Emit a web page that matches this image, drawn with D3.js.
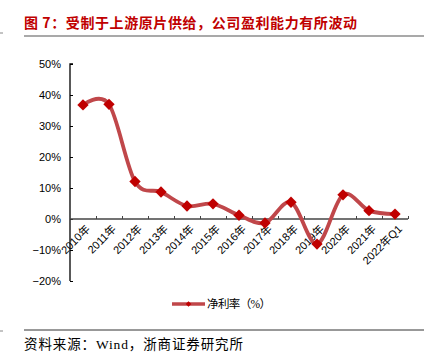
<!DOCTYPE html>
<html><head><meta charset="utf-8">
<script src="https://cdn.jsdelivr.net/npm/d3@7"></script>
<style>body{margin:0;background:#fff}svg{display:block}</style>
</head><body>
<svg id="c" width="438" height="364"></svg>
<script>
const categories = ["2010年","2011年","2012年","2013年","2014年","2015年","2016年","2017年","2018年","2019年","2020年","2021年","2022年Q1"];
const netMargin = [36.8, 37.0, 12.1, 8.7, 4.2, 4.9, 1.2, -1.3, 5.4, -8.1, 7.8, 2.7, 1.6];
const yTicks = [-20, -10, 0, 10, 20, 30, 40, 50];
const titleText = "图 7：受制于上游原片供给，公司盈利能力有所波动";
const seriesName = "净利率（%）";
const sourceText = "资料来源：Wind，浙商证券研究所";

const svg = d3.select("#c");
const sans = "Arial, 'Liberation Sans', 'Noto Sans CJK SC', sans-serif";
const serif = "'Liberation Serif', 'Noto Sans CJK SC', serif";

// title
svg.append("text").attr("x", 24).attr("y", 28).attr("font-family", "'Noto Sans CJK SC', sans-serif")
  .attr("font-size", 14).attr("font-weight", "bold").attr("fill", "#c00000")
  .attr("textLength", 333).attr("lengthAdjust", "spacing").text(titleText);
svg.append("line").attr("x1", 24).attr("x2", 424).attr("y1", 36).attr("y2", 36).attr("stroke", "#555").attr("stroke-width", 1.2);
svg.append("line").attr("x1", 0).attr("x2", 3).attr("y1", 33).attr("y2", 33).attr("stroke", "#888");

const x = d3.scaleBand().domain(categories).range([70, 408]);
const y = d3.scaleLinear().domain([-20, 50]).range([281, 64]);

// y axis
const ya = svg.append("g").attr("transform", "translate(70,0)")
  .call(d3.axisRight(y).tickValues(yTicks).tickSize(3).tickFormat(() => ""));
ya.select(".domain").attr("stroke", "#000").attr("stroke-width", 1.3).attr("d", `M3,${y(50)}H0V${y(-20)}`);
ya.selectAll(".tick line").attr("stroke", "#000");
svg.append("g").selectAll("text").data(yTicks).join("text")
  .attr("x", 61).attr("y", d => y(d)).attr("dy", "0.35em").attr("text-anchor", "end")
  .attr("font-family", sans).attr("font-size", 11).attr("fill", "#000")
  .text(d => (d < 0 ? "\u2212" + Math.abs(d) : d) + "%");

// x axis at zero
const boundaries = categories.map(c => x(c) + x.bandwidth()).slice(0, -1);
const xs = d3.scaleLinear().domain([70, 408]).range([70, 408]);
const xa = svg.append("g").attr("transform", `translate(0,${y(0)})`)
  .call(d3.axisTop(xs).tickValues(boundaries.concat([408])).tickSize(3).tickFormat(() => ""));
xa.select(".domain").attr("stroke", "#444").attr("stroke-width", 1.3).attr("d", "M70,0H408");
xa.selectAll(".tick line").attr("stroke", "#444");

svg.append("g").selectAll("text").data(categories).join("text")
  .attr("transform", d => `translate(${x(d) + x.bandwidth() / 2 + 5},${y(0) + 8}) rotate(-45)`)
  .attr("text-anchor", "end").attr("dy", "0.35em")
  .attr("font-family", sans).attr("font-size", 11).attr("fill", "#000").text(d => d);

// line
const cx = (d, i) => x(categories[i]) + x.bandwidth() / 2;
const line = d3.line().x(cx).y(d => y(d)).curve(d3.curveCardinal.tension(0));
svg.append("path").datum(netMargin).attr("d", line).attr("fill", "none")
  .attr("stroke", "#c0474a").attr("stroke-width", 3.8).attr("stroke-linejoin", "round");

svg.append("g").selectAll("path").data(netMargin).join("path")
  .attr("transform", (d, i) => `translate(${cx(d, i)},${y(d)}) rotate(45)`)
  .attr("d", d3.symbol().type(d3.symbolSquare).size(64)).attr("fill", "#c00000");

// legend
svg.append("line").attr("x1", 172).attr("x2", 205).attr("y1", 304).attr("y2", 304)
  .attr("stroke", "#c0474a").attr("stroke-width", 3.5);
svg.append("path").attr("transform", "translate(188.5,304) rotate(45)")
  .attr("d", d3.symbol().type(d3.symbolSquare).size(16)).attr("fill", "#c00000");
svg.append("text").attr("x", 207).attr("y", 304).attr("dy", "0.35em")
  .attr("font-family", serif).attr("font-size", 11.5).attr("fill", "#000")
  .attr("textLength", 64).attr("lengthAdjust", "spacing").text(seriesName);

// source
svg.append("line").attr("x1", 24).attr("x2", 424).attr("y1", 330).attr("y2", 330).attr("stroke", "#333").attr("stroke-width", 1);
svg.append("line").attr("x1", 0).attr("x2", 3).attr("y1", 331).attr("y2", 331).attr("stroke", "#888");
svg.append("text").attr("x", 24).attr("y", 344).attr("dy", "0.35em")
  .attr("font-family", serif).attr("font-size", 13.5).attr("fill", "#000")
  .attr("textLength", 219).attr("lengthAdjust", "spacing").text(sourceText);
</script>
</body></html>
